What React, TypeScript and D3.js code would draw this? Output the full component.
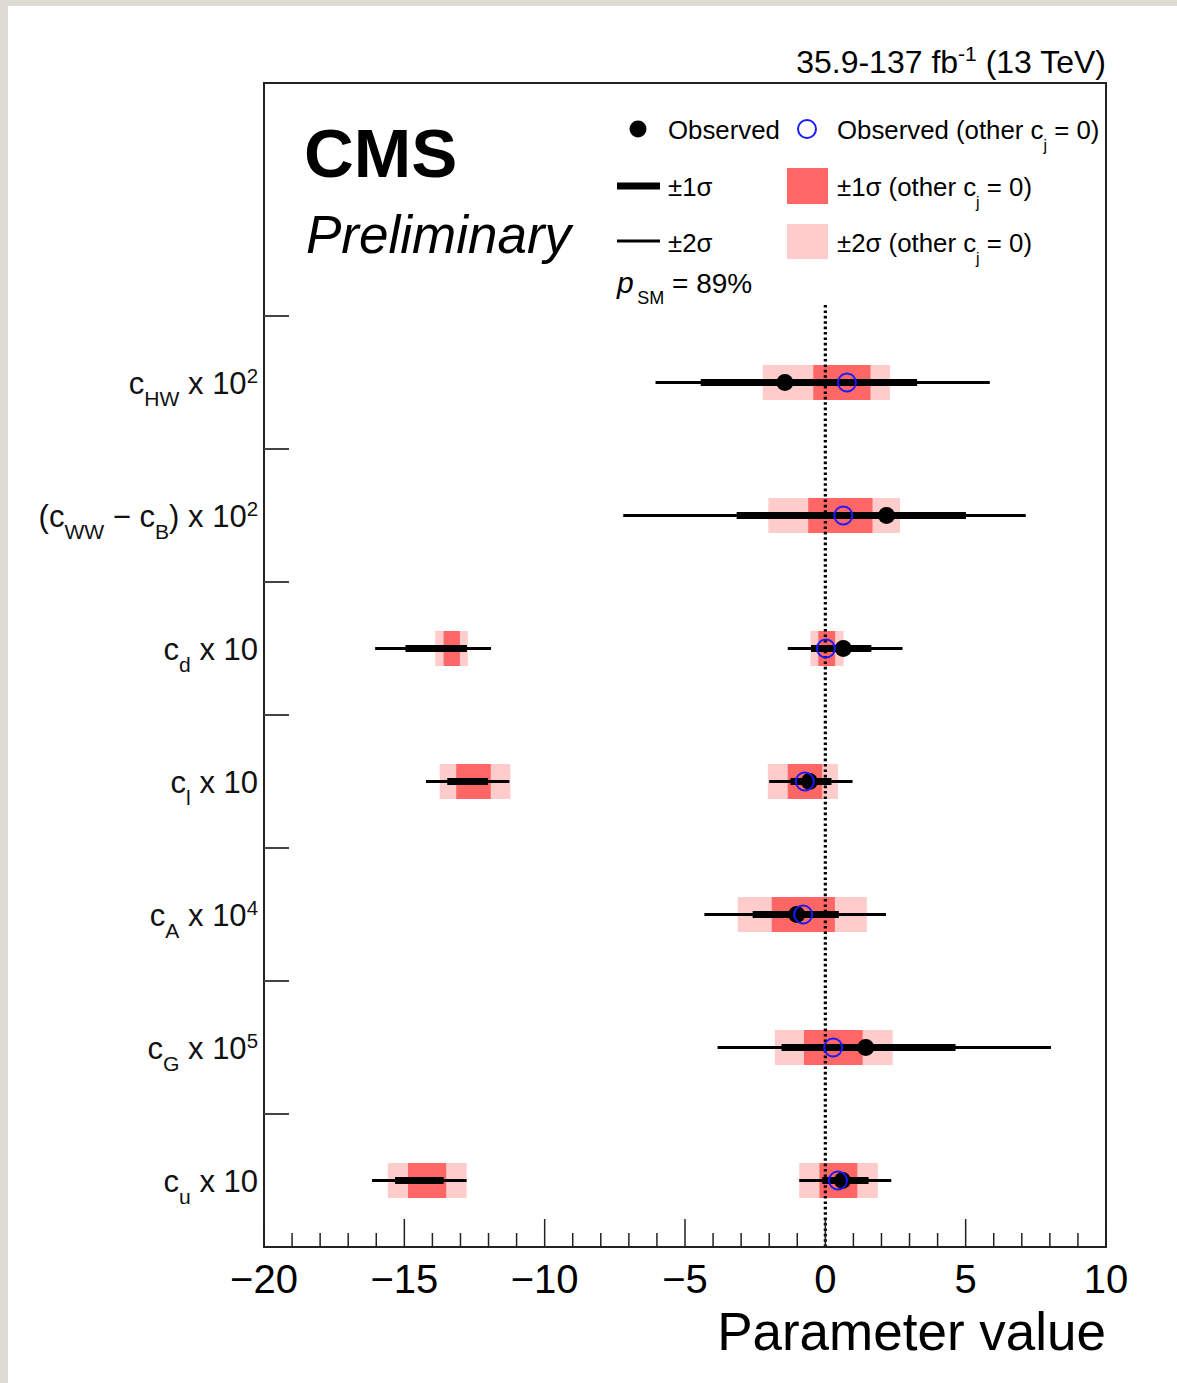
import * as d3 from "d3";
import React from "react";

const W = 1177;
const H = 1383;
const frame = { left: 264, right: 1106, top: 83, bottom: 1247 };
const font = "'Liberation Sans', Arial, Helvetica, sans-serif";

// parameter labels (parts: text, sub or sup)
const labels = [
  [["c"], ["HW", "sub"], [" x 10"], ["2", "sup"]],
  [["(c"], ["WW", "sub"], [" \u2212 c"], ["B", "sub"], [") x 10"], ["2", "sup"]],
  [["c"], ["d", "sub"], [" x 10"]],
  [["c"], ["l", "sub"], [" x 10"]],
  [["c"], ["A", "sub"], [" x 10"], ["4", "sup"]],
  [["c"], ["G", "sub"], [" x 10"], ["5", "sup"]],
  [["c"], ["u", "sub"], [" x 10"]],
];

// best fit values
const observed = [-1.44, 2.18, 0.64, -0.57, -1.02, 1.44, 0.61];
const observedOther = [0.77, 0.64, 0.02, -0.73, -0.79, 0.28, 0.45];

// intervals, several per row when the likelihood has two minima
const sigma1 = [
  [[-4.44, 3.27]],
  [[-3.16, 5.01]],
  [[-14.96, -12.77], [-0.51, 1.64]],
  [[-13.47, -12.02], [-1.24, 0.22]],
  [[-2.59, 0.48]],
  [[-1.56, 4.64]],
  [[-15.33, -13.6], [-0.11, 1.54]],
];
const sigma2 = [
  [[-6.05, 5.86]],
  [[-7.2, 7.14]],
  [[-16.04, -11.91], [-1.34, 2.75]],
  [[-14.23, -11.26], [-2.0, 0.97]],
  [[-4.31, 2.16]],
  [[-3.84, 8.04]],
  [[-16.15, -12.78], [-0.93, 2.35]],
];
const other1 = [
  [[-0.43, 1.61]],
  [[-0.61, 1.68]],
  [[-13.6, -13.02], [-0.25, 0.35]],
  [[-13.15, -11.92], [-1.34, -0.11]],
  [[-1.91, 0.34]],
  [[-0.76, 1.33]],
  [[-14.87, -13.51], [-0.21, 1.14]],
];
const other2 = [
  [[-2.23, 2.3]],
  [[-2.03, 2.66]],
  [[-13.9, -12.74], [-0.53, 0.65]],
  [[-13.74, -11.22], [-2.05, 0.45]],
  [[-3.12, 1.48]],
  [[-1.8, 2.4]],
  [[-15.59, -12.78], [-0.93, 1.87]],
];

const xDomain = [-20, 10];
const majorTicks = [-20, -15, -10, -5, 0, 5, 10];
const pSM = "89%";

const red1 = "#ff6666";
const red2 = "#ffcccc";

const Label = ({ parts, x, y, size }) => (
  <text x={x} y={y} textAnchor="end" fontSize={size} fontFamily={font} fill="#111">
    {parts.map((p, i) =>
      p[1] === "sub" ? (
        <tspan key={i} fontSize={size * 0.68} baselineShift={-size * 0.38}>{p[0]}</tspan>
      ) : p[1] === "sup" ? (
        <tspan key={i} fontSize={size * 0.66} baselineShift={size * 0.36}>{p[0]}</tspan>
      ) : (
        <tspan key={i}>{p[0]}</tspan>
      )
    )}
  </text>
);

const Cj = ({ size }) => (
  <>
    <tspan>{"(other c"}</tspan>
    <tspan fontSize={size * 0.62} baselineShift={-size * 0.45}>j</tspan>
    <tspan>{" = 0)"}</tspan>
  </>
);

export default function App() {
  const x = d3.scaleLinear().domain(xDomain).range([frame.left, frame.right]);
  const step = 133;
  const y = d3
    .scaleBand()
    .domain(labels.map((_, i) => i))
    .range([frame.bottom - step * labels.length, frame.bottom]);
  const cy = (i) => y(i) + y.bandwidth() / 2;
  const boxH = 35;
  const minor = d3.range(xDomain[0], xDomain[1] + 1, 1);
  const legSize = 25.8;

  return (
    <svg width={W} height={H} style={{ position: "absolute", left: 0, top: 0 }}>
      <rect x={0} y={0} width={W} height={H} fill="#dcdcd5" />
      <rect x={8} y={6} width={W - 8} height={H - 6} fill="#fff" />

      {/* boxes for fits with other c_j = 0 */}
      {other2.map((row, i) =>
        row.map((d, k) => (
          <rect key={`p${i}-${k}`} x={x(d[0])} y={cy(i) - boxH / 2} width={x(d[1]) - x(d[0])} height={boxH} fill={red2} />
        ))
      )}
      {other1.map((row, i) =>
        row.map((d, k) => (
          <rect key={`r${i}-${k}`} x={x(d[0])} y={cy(i) - boxH / 2} width={x(d[1]) - x(d[0])} height={boxH} fill={red1} />
        ))
      )}

      {/* SM line */}
      <line x1={x(0)} x2={x(0)} y1={305} y2={frame.bottom} stroke="#000" strokeWidth={3.2} strokeDasharray="2.6,2.8" />

      {sigma2.map((row, i) =>
        row.map((d, k) => (
          <line key={`s2${i}-${k}`} x1={x(d[0])} x2={x(d[1])} y1={cy(i)} y2={cy(i)} stroke="#000" strokeWidth={3.2} />
        ))
      )}
      {sigma1.map((row, i) =>
        row.map((d, k) => (
          <line key={`s1${i}-${k}`} x1={x(d[0])} x2={x(d[1])} y1={cy(i)} y2={cy(i)} stroke="#000" strokeWidth={7} />
        ))
      )}
      {observed.map((v, i) => (
        <circle key={`o${i}`} cx={x(v)} cy={cy(i)} r={8.5} fill="#000" />
      ))}
      {observedOther.map((v, i) => (
        <circle key={`b${i}`} cx={x(v)} cy={cy(i)} r={9} fill="none" stroke="#1a1aff" strokeWidth={2} />
      ))}

      {/* frame and axes */}
      <rect x={frame.left} y={frame.top} width={frame.right - frame.left} height={frame.bottom - frame.top} fill="none" stroke="#222" strokeWidth={2} />
      {minor.map((v) => (
        <line key={`m${v}`} x1={x(v)} x2={x(v)} y1={frame.bottom} y2={frame.bottom - (majorTicks.includes(v) ? 28 : 14)} stroke="#222" strokeWidth={1.5} />
      ))}
      {majorTicks.map((v) => (
        <text key={`t${v}`} x={x(v)} y={1293} textAnchor="middle" fontSize={40} fontFamily={font} fill="#000">
          {d3.format("")(v).replace("-", "\u2212")}
        </text>
      ))}
      <text x={frame.right} y={1350} textAnchor="end" fontSize={53} fontFamily={font} fill="#000">Parameter value</text>

      {labels.map((_, i) => (
        <line key={`yt${i}`} x1={frame.left} x2={frame.left + 25} y1={y(i)} y2={y(i)} stroke="#444" strokeWidth={2} />
      ))}
      {labels.map((parts, i) => (
        <Label key={`l${i}`} parts={parts} x={258} y={cy(i) + 11} size={31} />
      ))}

      {/* header */}
      <text x={1106} y={73} textAnchor="end" fontSize={32} fontFamily={font} fill="#000">
        <tspan>35.9-137 fb</tspan>
        <tspan fontSize={21} baselineShift={12}>-1</tspan>
        <tspan> (13 TeV)</tspan>
      </text>
      <text x={304} y={177} fontSize={69} fontWeight="bold" fontFamily={font} fill="#000">CMS</text>
      <text x={306} y={253} fontSize={53} fontStyle="italic" fontFamily={font} fill="#000">Preliminary</text>

      {/* legend */}
      <circle cx={638} cy={129} r={8.5} fill="#000" />
      <text x={668} y={139} fontSize={legSize} fontFamily={font}>Observed</text>
      <circle cx={807} cy={129} r={9} fill="none" stroke="#1a1aff" strokeWidth={2} />
      <text x={837} y={139} fontSize={legSize} fontFamily={font}>
        <tspan>Observed </tspan>
        <Cj size={legSize} />
      </text>
      <line x1={617} x2={660} y1={186} y2={186} stroke="#000" strokeWidth={7} />
      <text x={668} y={196} fontSize={legSize} fontFamily={font}>{"\u00b11\u03c3"}</text>
      <rect x={787} y={168} width={41} height={36} fill={red1} />
      <text x={837} y={196} fontSize={legSize} fontFamily={font}>
        <tspan>{"\u00b11\u03c3 "}</tspan>
        <Cj size={legSize} />
      </text>
      <line x1={617} x2={660} y1={241} y2={241} stroke="#000" strokeWidth={3.2} />
      <text x={668} y={252} fontSize={legSize} fontFamily={font}>{"\u00b12\u03c3"}</text>
      <rect x={787} y={224} width={41} height={35} fill={red2} />
      <text x={837} y={252} fontSize={legSize} fontFamily={font}>
        <tspan>{"\u00b12\u03c3 "}</tspan>
        <Cj size={legSize} />
      </text>
      <text x={617} y={293} fontSize={28} fontFamily={font}>
        <tspan fontStyle="italic" fontSize={30}>p</tspan>
        <tspan fontSize={18} baselineShift={-11}>{"\u2009SM"}</tspan>
        <tspan>{` = ${pSM}`}</tspan>
      </text>
    </svg>
  );
}
